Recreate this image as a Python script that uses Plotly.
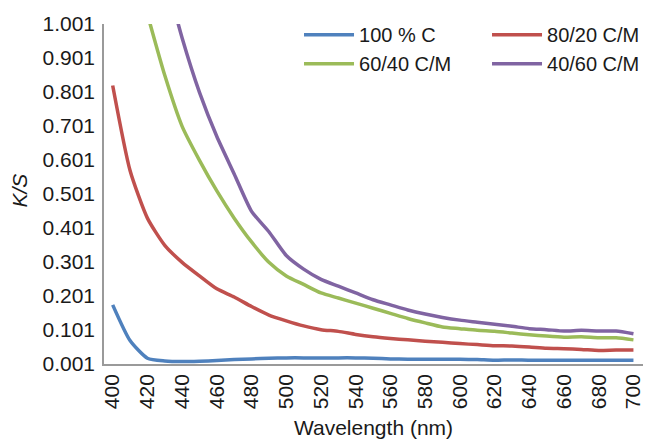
import plotly.graph_objects as go

wavelength = [400, 410, 420, 430, 440, 450, 460, 470, 480, 490, 500, 510, 520, 530, 540, 550,
              560, 570, 580, 590, 600, 610, 620, 630, 640, 650, 660, 670, 680, 690, 700]

c100 = [0.175, 0.070, 0.018, 0.010, 0.008, 0.009, 0.011, 0.014, 0.016, 0.018, 0.019, 0.019,
        0.019, 0.019, 0.019, 0.018, 0.016, 0.015, 0.015, 0.015, 0.015, 0.014, 0.012, 0.013,
        0.012, 0.012, 0.012, 0.012, 0.012, 0.012, 0.012]

c80m20 = [0.820, 0.570, 0.430, 0.350, 0.300, 0.260, 0.222, 0.198, 0.170, 0.145, 0.128, 0.113,
          0.102, 0.097, 0.088, 0.081, 0.076, 0.072, 0.068, 0.065, 0.061, 0.058, 0.055, 0.054,
          0.051, 0.047, 0.046, 0.044, 0.041, 0.042, 0.042]

wl_6040 = wavelength[2:]
c60m40 = [1.030, 0.850, 0.700, 0.600, 0.510, 0.430, 0.360, 0.300, 0.260, 0.235, 0.210, 0.195,
          0.180, 0.165, 0.150, 0.135, 0.122, 0.110, 0.105, 0.100, 0.097, 0.092, 0.087, 0.083,
          0.080, 0.081, 0.078, 0.078, 0.072]

wl_4060 = wavelength[3:]
c40m60 = [1.150, 0.960, 0.800, 0.670, 0.560, 0.450, 0.390, 0.320, 0.280, 0.250, 0.230, 0.210,
          0.190, 0.175, 0.160, 0.148, 0.138, 0.130, 0.124, 0.118, 0.112, 0.105, 0.102, 0.098,
          0.100, 0.098, 0.098, 0.090]

x_ticks = [400, 420, 440, 460, 480, 500, 520, 540, 560, 580, 600, 620, 640, 660, 680, 700]
y_ticks = [0.001, 0.101, 0.201, 0.301, 0.401, 0.501, 0.601, 0.701, 0.801, 0.901, 1.001]
y_tick_text = ["0.001", "0.101", "0.201", "0.301", "0.401", "0.501", "0.601", "0.701",
               "0.801", "0.901", "1.001"]

series = [
    ("100 % C", wavelength, c100, "#4F81BD"),
    ("80/20 C/M", wavelength, c80m20, "#C0504D"),
    ("60/40 C/M", wl_6040, c60m40, "#9BBB59"),
    ("40/60 C/M", wl_4060, c40m60, "#8064A2"),
]

FONT = "Liberation Sans, Arial, sans-serif"
fig = go.Figure()
for name, xs, ys, col in series:
    fig.add_trace(go.Scatter(x=xs, y=ys, name=name, mode="lines",
                             line=dict(color=col, width=3.5, shape="spline", smoothing=0.6)))

fig.update_layout(
    width=650, height=439,
    margin=dict(l=104, r=7, t=24, b=75, autoexpand=False),
    paper_bgcolor="white", plot_bgcolor="white",
    font=dict(family=FONT, size=21, color="#1a1a1a"),
    showlegend=True,
    legend=dict(orientation="h", x=1.0594, y=1.026, xanchor="right", yanchor="top",
                entrywidth=123, entrywidthmode="pixels",
                font=dict(size=20, color="#1a1a1a"), bgcolor="rgba(0,0,0,0)",
                tracegroupgap=0, itemwidth=50),
    xaxis=dict(range=[395, 705.5], tickvals=x_ticks, tickangle=-90, showgrid=False,
               zeroline=False, showline=True, linecolor="#9a9a9a", linewidth=1.5,
               ticks="", tickfont=dict(size=21), mirror=False, ticklabeloverflow="allow",
               automargin=False,
               title=dict(text="Wavelength (nm)", font=dict(size=21), standoff=12)),
    yaxis=dict(range=[0.001, 1.001], tickvals=y_ticks, ticktext=y_tick_text, showgrid=False,
               zeroline=False, showline=True, linecolor="#9a9a9a", linewidth=1.5,
               ticks="", tickfont=dict(size=21), ticklabelstandoff=3, automargin=False),
    annotations=[dict(text="<i>K/S</i>", xref="paper", yref="paper", x=-0.156, y=0.51,
                      xanchor="center", yanchor="middle",
                      textangle=-90, showarrow=False, font=dict(size=21, color="#1a1a1a"))],
)

fig.write_html("out.html", config={"displayModeBar": False},
               post_script="document.body.style.margin='0';")
